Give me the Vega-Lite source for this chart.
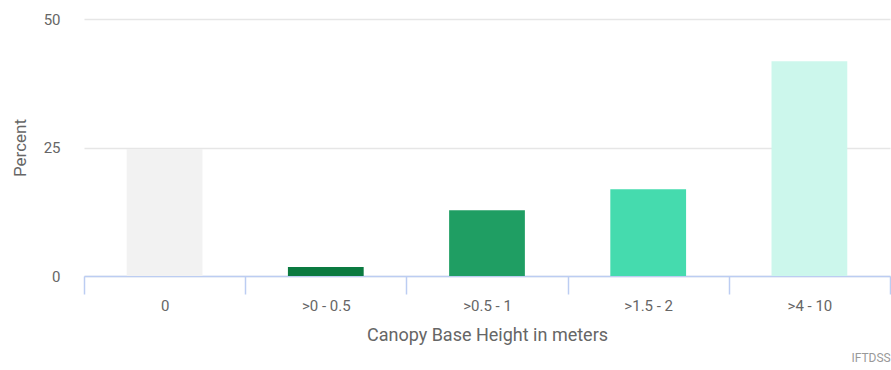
{
  "$schema": "https://vega.github.io/schema/vega-lite/v6.json",
  "width": 806,
  "height": 257,
  "autosize": {"type": "none"},
  "padding": {"left": 84, "top": 19, "right": 1, "bottom": 94},
  "background": "white",
  "config": {"view": {"stroke": null}, "font": "Roboto"},
  "title": {"text": "IFTDSS", "orient": "bottom", "anchor": "end", "fontSize": 12, "fontWeight": "normal", "color": "#999999", "font": "Roboto", "offset": 9},
  "data": {"values": [
    {"cbh": "0", "pct": 24.7, "color": "#f2f2f2"},
    {"cbh": ">0 - 0.5", "pct": 1.75, "color": "#0b7a40"},
    {"cbh": ">0.5 - 1", "pct": 12.8, "color": "#1f9e63"},
    {"cbh": ">1.5 - 2", "pct": 16.9, "color": "#45dbae"},
    {"cbh": ">4 - 10", "pct": 41.8, "color": "#ccf7ec"}
  ]},
  "mark": {"type": "bar", "width": {"band": 0.47}},
  "encoding": {
    "x": {"field": "cbh", "type": "nominal", "sort": null,
      "scale": {"paddingInner": 0, "paddingOuter": 0},
      "axis": {"title": "Canopy Base Height in meters", "labelAngle": 0, "domainColor": "#bccdf2", "domainWidth": 1.5, "tickColor": "#bccdf2", "tickWidth": 1.5, "tickSize": 18, "tickBand": "extent", "labelPadding": 4, "labelFontSize": 15, "labelColor": "#666666", "titleFontSize": 18, "titleFontWeight": "normal", "titleColor": "#666666", "titlePadding": 13, "grid": false}},
    "y": {"field": "pct", "type": "quantitative",
      "scale": {"domain": [0, 50]},
      "axis": {"title": "Percent", "values": [0, 25, 50], "domain": false, "ticks": false, "gridColor": "#e6e6e6", "gridWidth": 1.5, "labelPadding": 24, "labelFontSize": 15, "labelColor": "#666666", "titleFontSize": 17, "titleFontWeight": "normal", "titleColor": "#666666", "titlePadding": 14}},
    "color": {"field": "color", "type": "nominal", "scale": null, "legend": null}
  }
}
